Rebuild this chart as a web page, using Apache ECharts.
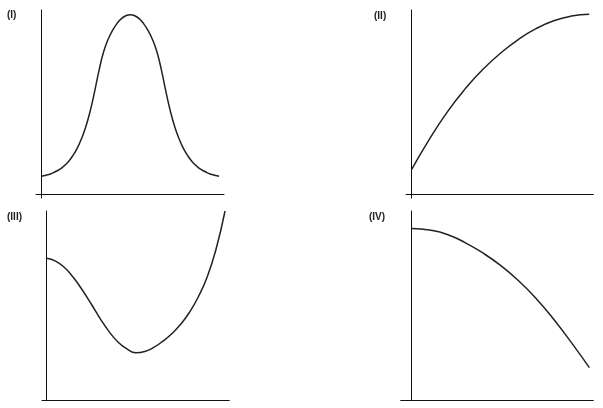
<!DOCTYPE html>
<html>
<head>
<meta charset="utf-8">
<script src="https://cdn.jsdelivr.net/npm/echarts@6/dist/echarts.min.js"></script>
<style>
html,body{margin:0;padding:0;background:#fff;}
#c{width:603px;height:408px;}
</style>
</head>
<body>
<div id="c"></div>
<script>
// Panel labels
var panelLabels = ['(I)', '(II)', '(III)', '(IV)'];

// Panel I: bell-shaped curve
var xsI = [0,0.25,0.5,0.75,1,1.25,1.5,1.75,2,2.25,2.5,2.75,3,3.25,3.5,3.75,4,4.25,4.5,4.75,5,
           5.25,5.5,5.75,6,6.25,6.5,6.75,7,7.25,7.5,7.75,8,8.25,8.5,8.75,9,9.25,9.5,9.75,10];
var ysI = [1.01,1.07,1.14,1.25,1.38,1.57,1.81,2.14,2.55,3.10,3.79,4.68,5.77,6.96,7.95,8.64,9.14,9.52,9.80,9.96,10.02,
           9.96,9.80,9.52,9.14,8.64,7.95,6.96,5.77,4.68,3.79,3.10,2.55,2.14,1.81,1.57,1.38,1.25,1.14,1.07,1.01];

// Panel II: increasing, concave down
var xsII = [0,1,2,3,4,5,6,7,8,9,10];
var ysII = [1.39,3.08,4.59,5.87,6.96,7.87,8.63,9.24,9.68,9.94,10.04];

// Panel III: dip then rise
var xsIII = [0,0.5,1,1.5,2,2.5,3,3.5,4,4.5,5,5.5,6,6.5,7,7.5,8,8.5,9,9.5,10];
var ysIII = [7.50,7.35,7.01,6.48,5.82,5.08,4.31,3.62,3.07,2.70,2.50,2.57,2.78,3.10,3.49,3.99,4.63,5.45,6.51,7.99,10.0];

// Panel IV: decreasing, concave down
var xsIV = [0,1,2,3,4,5,6,7,8,9,10];
var ysIV = [9.08,8.99,8.76,8.33,7.78,7.12,6.32,5.37,4.26,3.02,1.71];

function pairs(xs, ys){ return xs.map(function(x,i){ return [x, ys[i]]; }); }

var grids = [
  {left:36, top:10, width:188, height:188},
  {left:406, top:10, width:187.3, height:188},
  {left:42, top:211, width:187.3, height:189},
  {left:400.7, top:211, width:192.6, height:189}
];
var xRanges = [[-0.31,10.28],[-0.32,10.23],[-0.26,10.24],[-0.62,10.22]];
var yRanges = [[-0.2,10.28],[-0.2,10.28],[0,10],[0,10]];
var dataSets = [pairs(xsI,ysI), pairs(xsII,ysII), pairs(xsIII,ysIII), pairs(xsIV,ysIV)];
var labelPos = [[7,10],[374,11],[7,212],[369,212]];

var axisCommon = {
  type:'value',
  axisLine:{show:true, onZero:true, lineStyle:{color:'#111', width:1}},
  axisTick:{show:false},
  axisLabel:{show:false},
  splitLine:{show:false}
};

var option = {
  animation:false,
  backgroundColor:'#fff',
  grid: grids,
  xAxis: grids.map(function(g,i){
    return Object.assign({}, axisCommon, {gridIndex:i, min:xRanges[i][0], max:xRanges[i][1]});
  }),
  yAxis: grids.map(function(g,i){
    return Object.assign({}, axisCommon, {gridIndex:i, min:yRanges[i][0], max:yRanges[i][1]});
  }),
  series: dataSets.map(function(d,i){
    return {
      type:'line', xAxisIndex:i, yAxisIndex:i, data:d,
      smooth:0.5, showSymbol:false, symbol:'none',
      lineStyle:{color:'#222', width:1.5}
    };
  }),
  graphic: panelLabels.map(function(t,i){
    return {
      type:'text', left:labelPos[i][0], top:labelPos[i][1],
      style:{text:t, fill:'#222', font:'bold 10px "Liberation Sans", Arial, sans-serif'}
    };
  })
};

var chart = echarts.init(document.getElementById('c'), null, {renderer:'canvas'});
chart.setOption(option);
</script>
</body>
</html>
